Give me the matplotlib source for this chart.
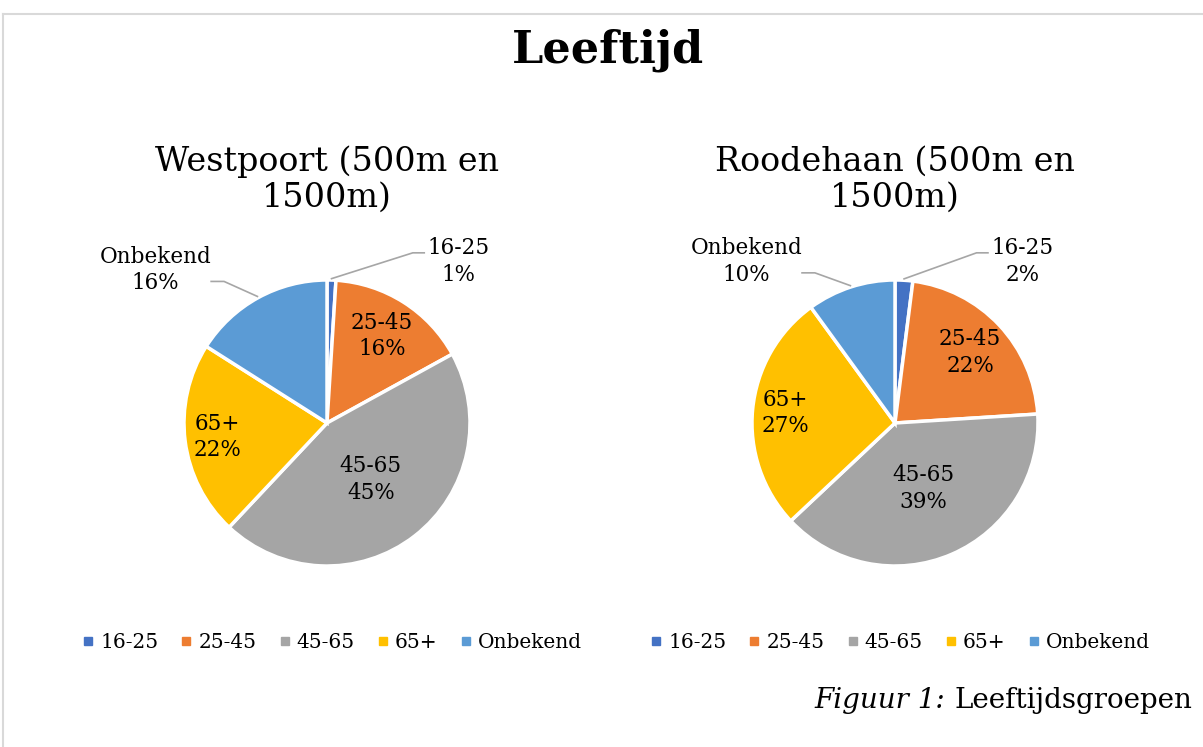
import numpy as np
import matplotlib.pyplot as plt
from matplotlib.lines import Line2D

plt.rcParams['font.family'] = ['DejaVu Serif']

# data
categories = ['16-25', '25-45', '45-65', '65+', 'Onbekend']
colors = ['#4472C4', '#ED7D31', '#A5A5A5', '#FFC000', '#5B9BD5']
titles = ['Westpoort (500m en\n1500m)', 'Roodehaan (500m en\n1500m)']
westpoort = [1, 16, 45, 22, 16]
roodehaan = [2, 22, 39, 27, 10]
series = [westpoort, roodehaan]

# label placement (inside radius per slice, outside label spots)
inside_r = [None, 0.72, 0.5, 0.77, None]
outside_pos = [
    {0: (0.92, 1.13), 4: (-1.20, 1.07)},
    {0: (0.89, 1.13), 4: (-1.04, 1.13)},
]

fig = plt.figure(figsize=(12.03, 7.47), dpi=100)
W, H = 1203, 747
R = 143  # pie radius in px

fig.text(608 / W, 1 - 50 / H, 'Leeftijd', ha='center', va='center',
         fontsize=32, fontweight='bold')

# light frame
fig.add_artist(Line2D([3 / W, 1], [1 - 14 / H, 1 - 14 / H], color='#D9D9D9', lw=1.5))
fig.add_artist(Line2D([3 / W, 3 / W], [0, 1 - 14 / H], color='#D9D9D9', lw=1.5))

centers = [327, 895]
axes = []
for k, (vals, cx) in enumerate(zip(series, centers)):
    half = 1.5 * R
    ax = fig.add_axes([(cx - half) / W, (H - 423 - half) / H, 2 * half / W, 2 * half / H])
    axes.append(ax)
    wedges, _ = ax.pie(vals, colors=colors, startangle=90, counterclock=False,
                       radius=1, wedgeprops=dict(edgecolor='white', linewidth=2.5))
    ax.set_xlim(-1.5, 1.5)
    ax.set_ylim(-1.5, 1.5)
    ax.set_aspect('equal')
    ax.axis('off')

    cum = np.cumsum([0] + vals) / sum(vals)
    for i, cat in enumerate(categories):
        mid = (cum[i] + cum[i + 1]) / 2 * 2 * np.pi
        ex, ey = np.sin(mid), np.cos(mid)
        txt = f'{cat}\n{vals[i]}%'
        if inside_r[i] is not None:
            ax.text(ex * inside_r[i], ey * inside_r[i], txt, ha='center', va='center',
                    fontsize=15.5, linespacing=1.25)
        else:
            lx, ly = outside_pos[k][i]
            ax.text(lx, ly, txt, ha='center', va='center', fontsize=15.5, linespacing=1.25)
            if lx > 0:
                elbow = (lx - 0.32, ly + 0.06)
                end = (lx - 0.24, ly + 0.06)
            else:
                elbow = (lx + 0.48, ly - 0.08)
                end = (lx + 0.39, ly - 0.08)
            ax.plot([ex * 1.01, elbow[0], end[0]], [ey * 1.01, elbow[1], end[1]],
                    color='#A6A6A6', lw=1.2, clip_on=False)

    fig.text(cx / W, 1 - 180 / H, titles[k], ha='center', va='center',
             fontsize=24, linespacing=1.15)

    handles = [Line2D([], [], marker='s', linestyle='none', markersize=6,
                      markerfacecolor=c, markeredgecolor=c) for c in colors]
    fig.legend(handles, categories, loc='center', ncol=5, frameon=False,
               bbox_to_anchor=((cx + 5) / W, 1 - 643 / H), fontsize=14.5,
               handlelength=0.6, handletextpad=0.3, columnspacing=1.1)

cap = fig.text(1192 / W, 1 - 714 / H, 'Leeftijdsgroepen', ha='right', va='bottom', fontsize=20)
axes[1].annotate('Figuur 1: ', xy=(0, 0), xycoords=cap, ha='right', va='bottom',
                 fontsize=20, fontstyle='italic', annotation_clip=False)

fig.savefig('out.png', dpi=100)
